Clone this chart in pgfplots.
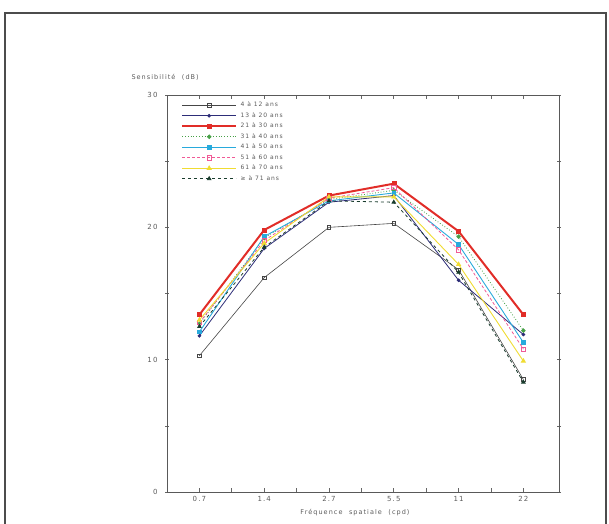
\documentclass[border=0pt]{standalone}
\usepackage{fontspec}
\setmainfont[LetterSpace=16]{DejaVu Sans}
\usepackage{pgfplots}
\usepackage{pgfplotstable}
\pgfplotsset{compat=1.18}

\definecolor{cKid}{RGB}{70,70,70}
\definecolor{cNavy}{RGB}{45,45,120}
\definecolor{cRed}{RGB}{225,45,40}
\definecolor{cGreen}{RGB}{70,160,70}
\definecolor{cCyan}{RGB}{40,170,220}
\definecolor{cPink}{RGB}{240,90,150}
\definecolor{cYellow}{RGB}{240,220,50}
\definecolor{cOld}{RGB}{25,60,45}
\definecolor{txt}{RGB}{90,90,90}

% x = categorie (0.7 1.4 2.7 5.5 11 22 cpd)
\pgfplotstableread{
x   a     b     c     d     e     f     g     h
0   10.3  11.8  13.4  12.7  12.1  12.8  13.0  12.5
1   16.2  18.4  19.8  19.2  19.3  19.0  18.8  18.5
2   20.0  21.9  22.4  22.1  22.0  22.2  22.3  22.0
3   20.3  22.4  23.3  22.8  22.6  23.0  22.3  21.9
4   16.8  16.0  19.7  19.3  18.7  18.3  17.2  16.6
5   8.5   11.9  13.4  12.2  11.3  10.8  9.9   8.3
}\sens

\begin{document}
\begin{tikzpicture}[x=1pt,y=1pt]
\useasboundingbox (0,0) rectangle (609,523);
\draw[line width=1.2pt,black!70] (5,-20) -- (5,510) -- (606,510) -- (606,-20);
\node[anchor=west,font=\fontsize{6.5}{7}\selectfont,text=txt] at (128,446) {Sensibilité\quad (dB)};
\node[font=\fontsize{6.5}{7}\selectfont,text=txt] at (355,10) {Fréquence\quad spatiale\quad (cpd)};
\begin{axis}[
  at={(167pt,31pt)}, anchor=south west,
  scale only axis,
  width=392pt, height=397pt,
  xmin=-0.5, xmax=5.55,
  ymin=0, ymax=30,
  xtick={0,1,2,3,4,5},
  xticklabels={0.7,1.4,2.7,5.5,11,22},
  minor xtick={0.5,1.5,2.5,3.5,4.5},
  ytick={0,10,20,30},
  minor ytick={5,15,25},
  axis line style={black!65,line width=0.8pt},
  x tick style={black!60,line width=0.6pt},
  y tick style={black!60,line width=0.6pt},
  xtick align=inside,
  ytick align=center,
  major tick length=4pt, minor tick length=4pt,
  /pgf/number format/assume math mode=true,
  ticklabel style={font=\fontsize{7}{8}\selectfont,text=txt},
  xticklabel style={yshift=-1pt},
  yticklabel style={xshift=-4pt},
  legend cell align=left,
  legend style={draw=none,fill=none,at={(0.028,0.993)},anchor=north west,
    font=\fontsize{6}{7}\selectfont,text=txt,
    nodes={text height=4.5pt,text depth=1pt,inner ysep=2.5pt,inner xsep=3.5pt},
    row sep=0pt},
  legend image code/.code={%
    \draw[mark repeat=2,mark phase=2] plot coordinates {(0pt,0pt) (27pt,0pt) (54pt,0pt)};},
  every axis plot/.append style={mark size=1.8pt},
]
\addplot[cKid,line width=0.6pt,mark=square,mark options={solid,fill=white,line width=0.6pt}] table[x=x,y=a]{\sens};
\addlegendentry{4 à 12 ans}
\addplot[cNavy,line width=0.8pt,mark=*,mark options={solid},mark size=1.4pt] table[x=x,y=b]{\sens};
\addlegendentry{13 à 20 ans}
\addplot[cRed,line width=2pt,mark=square*,mark options={solid,line width=0.5pt},mark size=2pt] table[x=x,y=c]{\sens};
\addlegendentry{21 à 30 ans}
\addplot[cGreen,line width=0.8pt,dotted,mark=*,mark options={solid}] table[x=x,y=d]{\sens};
\addlegendentry{31 à 40 ans}
\addplot[cCyan,line width=0.9pt,mark=square*,mark options={solid}] table[x=x,y=e]{\sens};
\addlegendentry{41 à 50 ans}
\addplot[cPink,line width=0.8pt,densely dashed,mark=square,mark options={solid,draw=cPink,fill=white,line width=0.7pt},mark size=2.2pt] table[x=x,y=f]{\sens};
\addlegendentry{51 à 60 ans}
\addplot[cYellow,line width=0.9pt,mark=triangle*,mark options={solid},mark size=2.2pt] table[x=x,y=g]{\sens};
\addlegendentry{61 à 70 ans}
\addplot[cOld,line width=0.8pt,dashed,mark=triangle*,mark options={solid},mark size=2pt] table[x=x,y=h]{\sens};
\addlegendentry{≥ à 71 ans}
\end{axis}
\end{tikzpicture}
\end{document}
